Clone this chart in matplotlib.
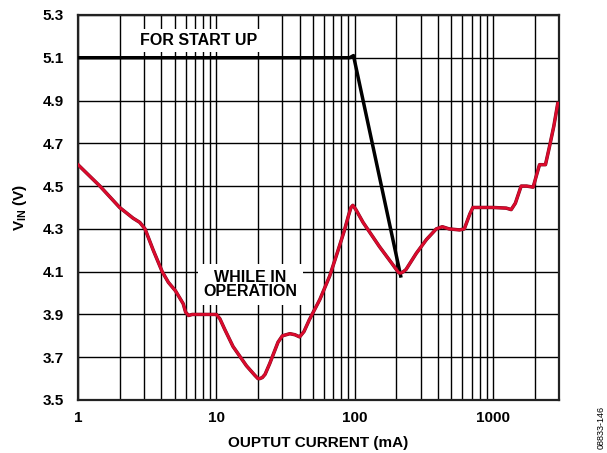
import matplotlib
matplotlib.use("Agg")
import matplotlib.pyplot as plt
import matplotlib.patheffects as pe
from matplotlib.ticker import FixedLocator, NullFormatter

plt.rcParams["font.family"] = ["Liberation Sans", "DejaVu Sans"]
plt.rcParams["font.weight"] = "bold"
plt.rcParams["axes.labelweight"] = "bold"
plt.rcParams["mathtext.fontset"] = "custom"
plt.rcParams["mathtext.rm"] = "Liberation Sans:bold"
plt.rcParams["mathtext.bf"] = "Liberation Sans:bold"

# start-up threshold (mA, V)
startup_i = [1, 92, 98, 215]
startup_v = [5.10, 5.10, 5.11, 4.08]

# input voltage needed while running (mA, V)
oper_i = [1.0, 1.44, 2.0, 2.5, 2.8, 3.05, 3.5, 4.06, 4.5, 5.07, 5.76, 6.0, 6.3, 6.7,
          8.0, 10.0, 10.6, 11.5, 13.2, 16.5, 19.0, 20.0, 20.6, 21.5, 22.5, 24.3,
          27.9, 30.0, 34.0, 37.0, 40.0, 43.0, 47.0, 56.0, 66.0, 75.0, 84.0, 90.0,
          94.0, 97.0, 102.0, 115.0, 151.0, 185.0, 200.0, 208.0, 215.0, 225.0, 235.0,
          279.0, 330.0, 389.0, 430.0, 480.0, 573.0, 620.0, 680.0, 715.0, 800.0,
          1000.0, 1245.0, 1353.0, 1450.0, 1596.0, 1750.0, 1950.0, 2060.0, 2168.0,
          2393.0, 2550.0, 2750.0, 2937.0]
oper_v = [4.60, 4.50, 4.40, 4.35, 4.33, 4.30, 4.20, 4.10, 4.05, 4.01, 3.95, 3.91,
          3.895, 3.90, 3.90, 3.90, 3.88, 3.83, 3.75, 3.66, 3.615, 3.60, 3.60, 3.605,
          3.62, 3.67, 3.77, 3.80, 3.81, 3.805, 3.795, 3.82, 3.875, 3.97, 4.08, 4.19,
          4.29, 4.36, 4.40, 4.41, 4.39, 4.33, 4.217, 4.14, 4.11, 4.095, 4.093, 4.10,
          4.11, 4.186, 4.25, 4.30, 4.31, 4.30, 4.295, 4.30, 4.37, 4.40, 4.40, 4.40,
          4.397, 4.39, 4.42, 4.50, 4.50, 4.495, 4.55, 4.60, 4.60, 4.68, 4.78, 4.887]

xticks = [1, 10, 100, 1000]
xticklabels = ["1", "10", "100", "1000"]
yticks = [3.5, 3.7, 3.9, 4.1, 4.3, 4.5, 4.7, 4.9, 5.1, 5.3]

fig = plt.figure(figsize=(6.07, 4.53), dpi=100)
ax = fig.add_axes([0.1285, 0.117, 0.7925, 0.850])

ax.set_xscale("log")
ax.set_xlim(1, 3000)
ax.set_ylim(3.5, 5.3)

minors = [m * d for d in (1, 10, 100, 1000) for m in range(2, 10) if m * d <= 3000]
ax.xaxis.set_major_locator(FixedLocator(xticks))
ax.xaxis.set_minor_locator(FixedLocator(minors))
ax.xaxis.set_minor_formatter(NullFormatter())
ax.set_xticklabels(xticklabels)
ax.set_yticks(yticks)
ax.set_yticklabels([f"{v:.1f}" for v in yticks])

ax.grid(True, which="both", axis="x", color="black", lw=1.0)
ax.grid(True, which="major", axis="y", color="black", lw=1.0)
ax.set_axisbelow(True)

ax.tick_params(which="both", length=0)
ax.tick_params(axis="x", pad=8, labelsize=11)
ax.tick_params(axis="y", pad=10, labelsize=11)
for s in ax.spines.values():
    s.set_linewidth(1.6)
    s.set_color("#222222")

ax.plot(startup_i, startup_v, color="black", lw=2.5, zorder=3)
ax.plot(oper_i, oper_v, color="#dc0a2d", lw=1.9, zorder=4,
        path_effects=[pe.Stroke(linewidth=2.5, foreground="#7a0a1e"), pe.Normal()])

box = dict(boxstyle="square,pad=0.25", fc="white", ec="none")
ax.text(7.5, 5.18, "FOR START UP", ha="center", va="center", fontsize=11.5,
        bbox=box, zorder=2.5)
ax.text(17.7, 4.04, "WHILE IN\nOPERATION", ha="center", va="center", fontsize=11.5,
        linespacing=0.95, bbox=dict(boxstyle="square,pad=0.35", fc="white", ec="none"),
        zorder=2.5)

ax.set_xlabel("OUPTUT CURRENT (mA)", fontsize=11, fontweight="bold", labelpad=8)
ax.set_ylabel(r"V$_{\mathbf{IN}}$ (V)", fontsize=11, fontweight="bold", labelpad=10)

fig.text(0.990, 0.057, "08833-146", rotation=90, ha="center", va="center",
         fontsize=6.5, fontweight="normal")

fig.savefig("out.png", dpi=100)
